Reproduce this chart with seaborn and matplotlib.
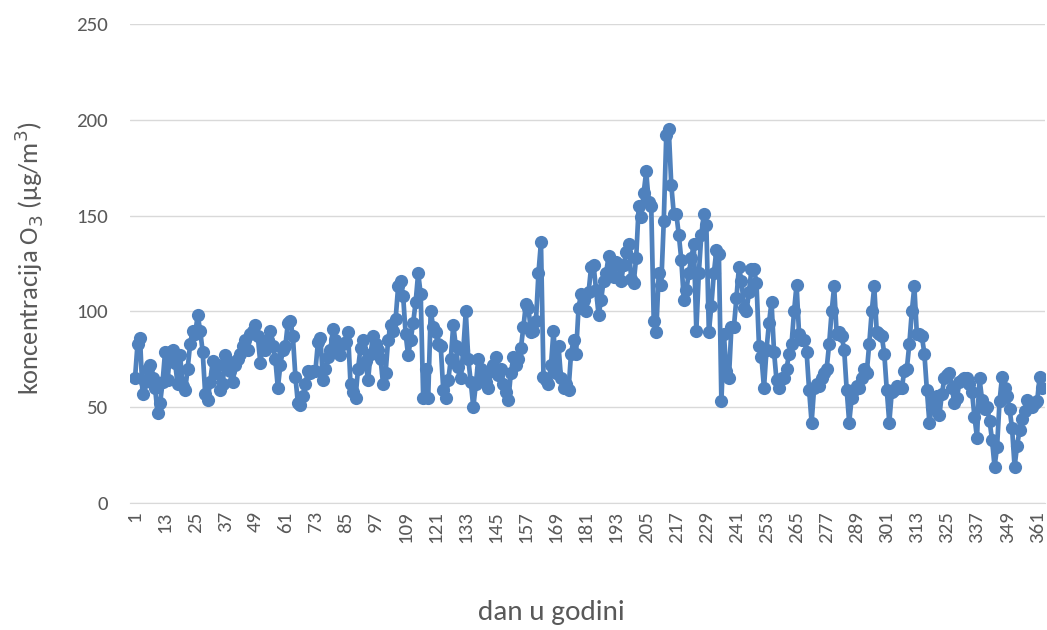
import matplotlib
matplotlib.use("Agg")
import matplotlib.pyplot as plt
import numpy as np
import pandas as pd
import seaborn as sns

sns.set_style("white")
plt.rcParams['font.family'] = ['Carlito', 'Lato', 'DejaVu Sans']

# daily O3 concentration (ug/m3), 12 days per row
o3_days_1_60 = [
    65, 83, 86, 57, 63, 70, 72, 65, 60, 47, 52, 63,
    79, 64, 79, 80, 73, 62, 77, 61, 59, 70, 83, 90,
    88, 98, 90, 79, 57, 54, 63, 74, 68, 72, 59, 62,
    77, 74, 69, 63, 72, 75, 78, 82, 85, 80, 88, 90,
    93, 87, 73, 82, 80, 85, 90, 82, 75, 60, 72, 80,
]
o3_days_61_120 = [
    82, 94, 95, 87, 66, 52, 51, 56, 62, 69, 68, 69,
    69, 84, 86, 64, 70, 76, 80, 91, 85, 80, 77, 83,
    84, 89, 62, 58, 55, 70, 81, 85, 74, 64, 78, 87,
    83, 80, 75, 62, 68, 85, 93, 90, 96, 113, 116, 108,
    88, 77, 85, 94, 105, 120, 109, 55, 70, 55, 100, 92,
]
o3_days_121_180 = [
    89, 83, 82, 59, 55, 64, 75, 93, 82, 71, 65, 80,
    100, 75, 63, 50, 62, 75, 70, 65, 63, 60, 69, 72,
    76, 67, 70, 62, 58, 54, 68, 76, 72, 75, 81, 92,
    104, 102, 89, 90, 95, 120, 136, 66, 64, 62, 72, 90,
    68, 82, 65, 60, 62, 59, 78, 85, 78, 102, 109, 106,
]
o3_days_181_240 = [
    100, 110, 123, 124, 111, 98, 106, 116, 120, 129, 122, 118,
    126, 124, 116, 124, 131, 135, 117, 115, 128, 155, 149, 162,
    173, 157, 155, 95, 89, 120, 114, 147, 192, 195, 166, 151,
    151, 140, 127, 106, 111, 120, 128, 135, 90, 120, 140, 151,
    145, 89, 103, 120, 132, 130, 53, 88, 69, 65, 92, 92,
]
o3_days_241_300 = [
    107, 123, 116, 102, 100, 110, 122, 122, 115, 82, 76, 60,
    80, 94, 105, 79, 64, 60, 65, 65, 70, 78, 83, 100,
    114, 88, 85, 85, 79, 59, 42, 60, 62, 61, 65, 68,
    70, 83, 100, 113, 88, 89, 87, 80, 59, 42, 55, 59,
    61, 60, 65, 70, 68, 83, 100, 113, 89, 88, 87, 78,
]
o3_days_301_363 = [
    59, 42, 58, 59, 61, 60, 60, 69, 70, 83, 100, 113,
    88, 88, 87, 78, 59, 42, 50, 54, 56, 46, 57, 65,
    67, 68, 60, 52, 55, 63, 64, 65, 65, 62, 58, 45,
    34, 65, 54, 49, 50, 43, 33, 19, 29, 53, 66, 60,
    56, 49, 39, 19, 30, 38, 44, 48, 54, 51, 50, 52,
    53, 66, 60,
]

o3 = (o3_days_1_60 + o3_days_61_120 + o3_days_121_180
      + o3_days_181_240 + o3_days_241_300 + o3_days_301_363)
days = list(range(1, len(o3) + 1))
tick_days = list(range(1, 362, 12))

df = pd.DataFrame({"dan": days, "O3": o3})

fig = plt.figure(figsize=(10.47, 6.3), dpi=100)
ax = fig.add_axes([0.124, 0.2016, 0.874, 0.7604])

sns.lineplot(data=df, x="dan", y="O3", ax=ax, color="#4F81BD",
             linewidth=3.4, marker="o", markersize=9.5,
             markeredgewidth=0, markerfacecolor="#4F81BD")

ax.set_ylim(0, 250)
ax.set_yticks([0, 50, 100, 150, 200, 250])
ax.set_xlim(-1.07, 364.1)
ax.set_xticks(tick_days)
ax.set_xticklabels([str(d) for d in tick_days], rotation=90)
ax.tick_params(axis="both", colors="#595959", labelsize=15, length=0)
ax.tick_params(axis="x", pad=6)
ax.tick_params(axis="y", pad=16)

ax.grid(axis="y", color="#D9D9D9", linewidth=1)
ax.set_axisbelow(True)
for s in ["top", "right", "left"]:
    ax.spines[s].set_visible(False)
ax.spines["bottom"].set_color("#D9D9D9")

ax.set_xlabel("dan u godini", fontsize=21, color="#595959")
ax.set_ylabel("koncentracija O$_3$ (µg/m$^3$)", fontsize=19, color="#595959")
ax.xaxis.set_label_coords(0.461, -0.228)
ax.xaxis.label.set_va("center")
ax.yaxis.set_label_coords(-0.111, 0.511)
ax.yaxis.label.set_va("center")

fig.savefig("out.png", dpi=100)
